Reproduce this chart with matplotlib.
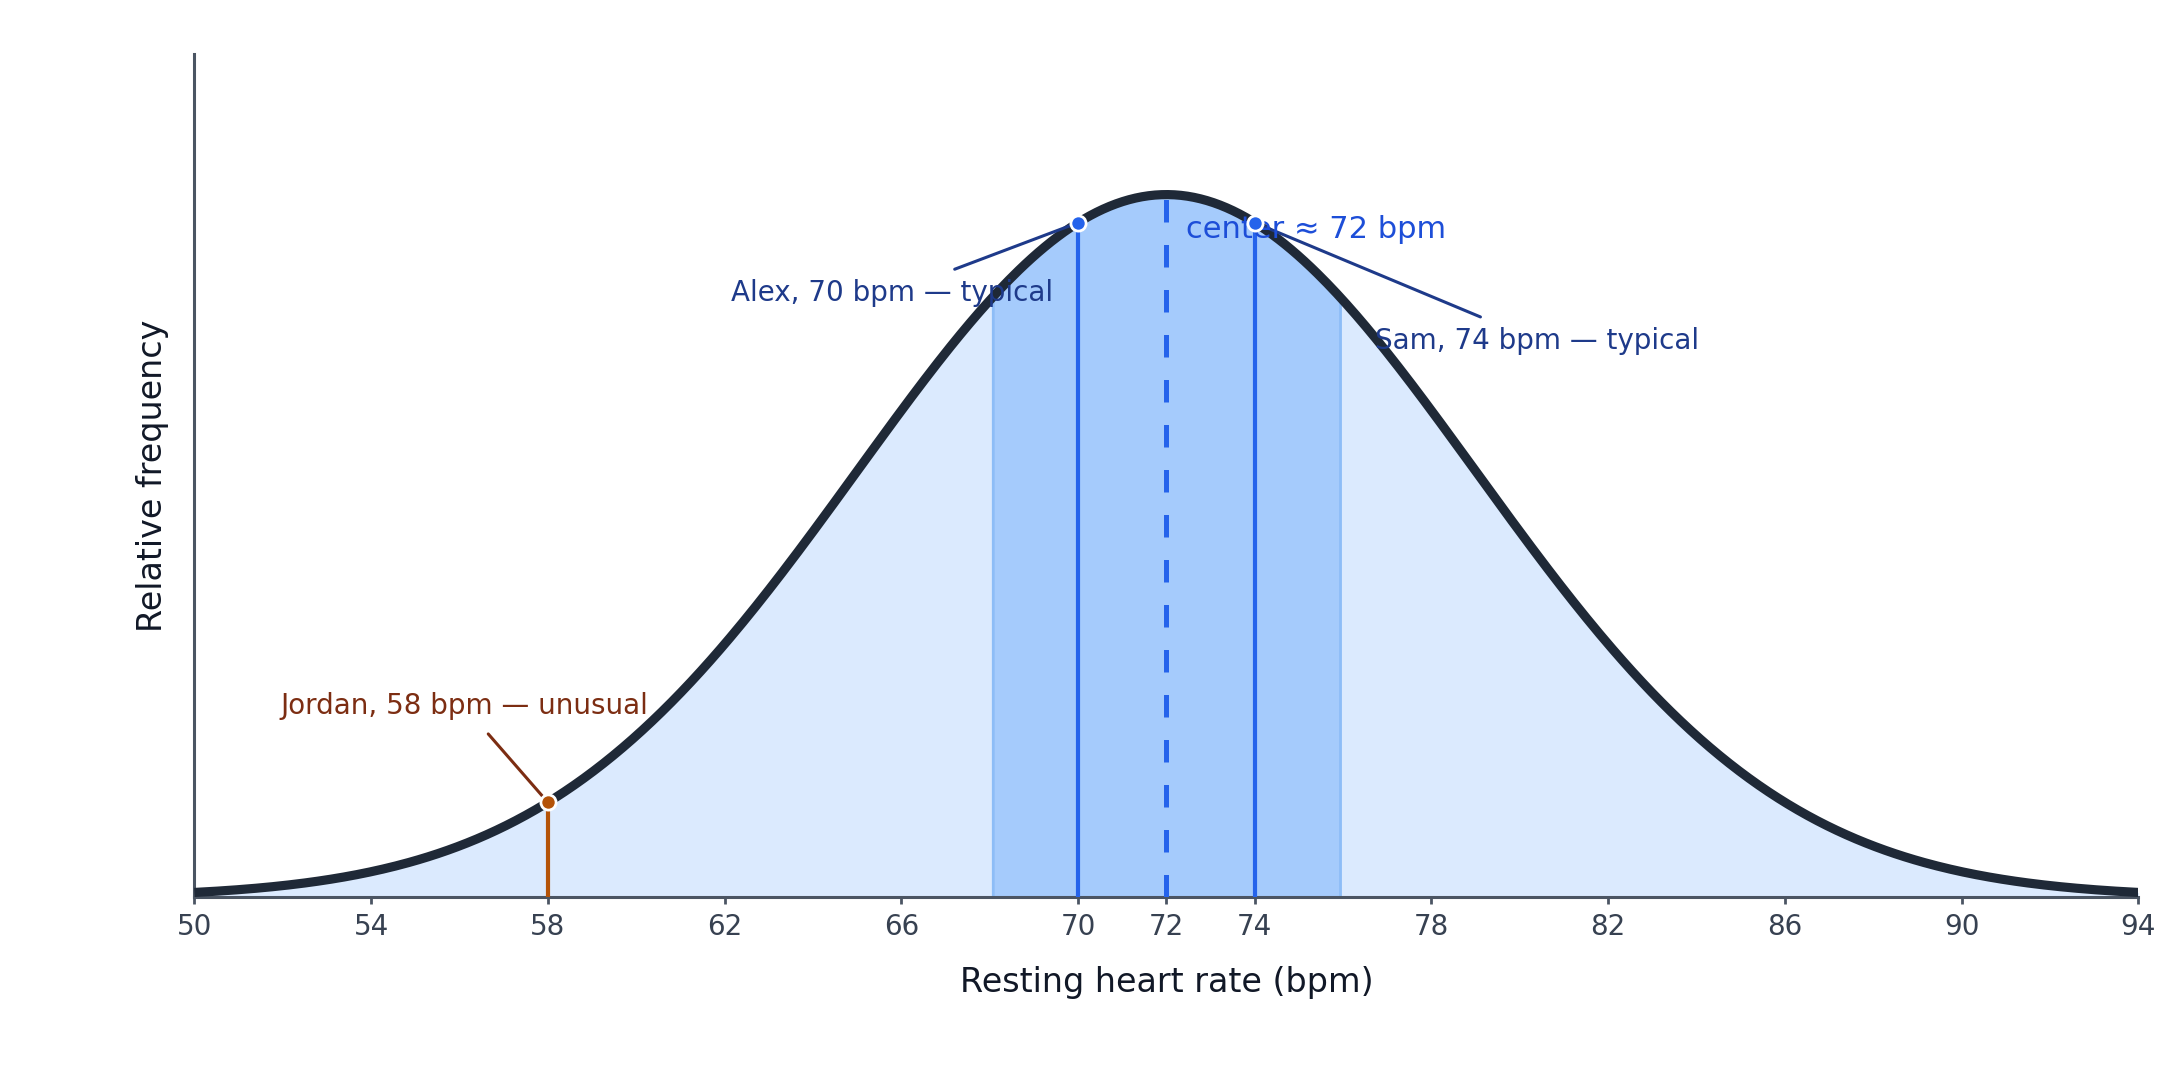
import numpy as np
import matplotlib
matplotlib.use('Agg')
import matplotlib.pyplot as plt

# distribution of resting heart rate
mean_bpm = 72
sd_bpm = 7
x_range = [50, 94]
typical_band = [68, 76]
xticks = [50, 54, 58, 62, 66, 70, 72, 74, 78, 82, 86, 90, 94]

people = ['Alex', 'Sam', 'Jordan']
people_bpm = [70, 74, 58]
people_tag = ['typical', 'typical', 'unusual']


def density(v):
    v = np.asarray(v, dtype=float)
    return np.exp(-0.5 * ((v - mean_bpm) / sd_bpm) ** 2) / (sd_bpm * np.sqrt(2 * np.pi))


def main():
    fig, ax = plt.subplots(figsize=(10.8, 5.4), dpi=200)
    fig.subplots_adjust(left=0.090, right=0.990, bottom=0.169, top=0.95)

    xs = np.linspace(x_range[0], x_range[1], 600)
    ys = density(xs)
    peak = density(mean_bpm)

    # whole curve, then the typical band
    ax.fill_between(xs, 0, ys, color='#dbeafe', lw=0, zorder=1)
    band = (xs >= typical_band[0]) & (xs <= typical_band[1])
    ax.fill_between(xs[band], 0, ys[band], color='#a5cbfc',
                    edgecolor='#8dbdf7', lw=1.0, zorder=2)

    # center line
    ax.plot([mean_bpm, mean_bpm], [0, peak], color='#2563eb', lw=1.8,
            ls=(0, (4.5, 4.5)), zorder=3)

    colors = {'typical': '#2563eb', 'unusual': '#b45309'}
    text_colors = {'typical': '#1e3a8a', 'unusual': '#7c2d12'}
    text_pos = {'Alex': (65.8, 0.717), 'Sam': (80.4, 0.660), 'Jordan': (56.1, 0.227)}

    for name, bpm, tag in zip(people, people_bpm, people_tag):
        yv = density(bpm)
        ax.plot([bpm, bpm], [0, yv], color=colors[tag], lw=1.5, zorder=3)

    ax.plot(xs, ys, color='#1f2937', lw=3.3, zorder=4, solid_capstyle='butt')

    ymax = peak * 1.2
    for name, bpm, tag in zip(people, people_bpm, people_tag):
        yv = density(bpm)
        ax.scatter([bpm], [yv], s=30, color=colors[tag], edgecolor='white',
                   linewidth=1.0, zorder=8)
        tx, ty = text_pos[name]
        ax.annotate('%s, %d bpm \u2014 %s' % (name, bpm, tag), xy=(bpm, yv),
                    xytext=(tx, ty * ymax), ha='center', va='center',
                    fontsize=10, color=text_colors[tag], zorder=7,
                    arrowprops=dict(arrowstyle='-', color=text_colors[tag],
                                    lw=1.1, shrinkA=4, shrinkB=3))

    ax.text(72.45, peak * 0.951, 'center \u2248 72 bpm', ha='left', va='center',
            fontsize=11, color='#1d4ed8', zorder=7)

    ax.set_xlim(x_range)
    ax.set_ylim(0, ymax)
    ax.set_xticks(xticks)
    ax.set_yticks([])
    for s in ['top', 'right']:
        ax.spines[s].set_visible(False)
    for s in ['left', 'bottom']:
        ax.spines[s].set_color('#4b5563')
        ax.spines[s].set_linewidth(1.1)
    ax.tick_params(axis='x', colors='#4b5563', labelcolor='#374151',
                   labelsize=10, length=2.5, width=1.0, pad=3)

    ax.set_xlabel('Resting heart rate (bpm)', fontsize=12, color='#111827', labelpad=9)
    ax.set_ylabel('Relative frequency', fontsize=12, color='#111827', labelpad=9)

    fig.savefig('out.png')


if __name__ == '__main__':
    main()
